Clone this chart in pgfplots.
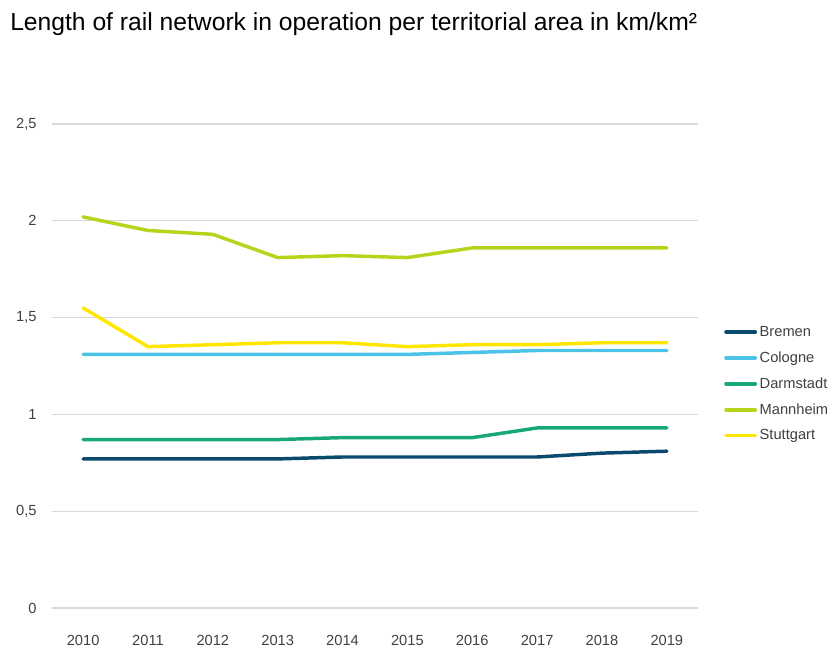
\documentclass[border=0pt]{standalone}
\usepackage{fontspec}
\setmainfont{Liberation Sans}
\usepackage{pgfplots}
\pgfplotsset{compat=1.18}
\definecolor{bremen}{HTML}{0B4A6F}
\definecolor{cologne}{HTML}{4CC3E6}
\definecolor{darmstadt}{HTML}{17A77B}
\definecolor{mannheim}{HTML}{B5D51C}
\definecolor{stuttgart}{HTML}{FFE600}
\definecolor{gridgray}{HTML}{D9D9D9}
\definecolor{ticktext}{HTML}{404040}

\begin{document}
\begin{tikzpicture}
\path[use as bounding box] (-39pt,-30.75pt) rectangle (582pt,456pt);
\begin{axis}[
  scale only axis,
  width=484.5pt,
  height=363pt,
  xmin=2009.52, xmax=2019.48,
  ymin=0, ymax=2.5,
  xtick={2010,...,2019},
  ytick={0,0.5,1,1.5,2,2.5},
  yticklabels={0,{0,5},1,{1,5},2,{2,5}},
  xticklabel={\pgfmathprintnumber[set thousands separator={}]{\tick}},
  /pgf/number format/assume math mode=true,
  axis line style={draw=none},
  axis x line*=bottom,
  axis y line*=left,
  ymajorgrids=true,
  grid style={gridgray, line width=0.8pt},
  major tick length=0pt,
  tick label style={font=\fontsize{11}{13}\selectfont, text=ticktext},
  xticklabel style={yshift=-17pt},
  yticklabel style={xshift=-8pt},
  every axis plot/.append style={line width=2.6pt, line join=round, line cap=round},
  legend style={
    at={(1.034,0.463)}, anchor=west, draw=none, fill=none,
    font=\fontsize{11}{13}\selectfont, text=ticktext,
    row sep=6pt,
    /tikz/every even column/.append style={column sep=0pt},
  },
  legend cell align=left,
  legend image code/.code={\draw[line width=2.6pt,line cap=round] (0pt,0pt) -- (22pt,0pt);},
]
\addplot[bremen] coordinates {
  (2010,0.77) (2011,0.77) (2012,0.77) (2013,0.77) (2014,0.78)
  (2015,0.78) (2016,0.78) (2017,0.78) (2018,0.80) (2019,0.81)
};
\addlegendentry{Bremen}
\addplot[cologne] coordinates {
  (2010,1.31) (2011,1.31) (2012,1.31) (2013,1.31) (2014,1.31)
  (2015,1.31) (2016,1.32) (2017,1.33) (2018,1.33) (2019,1.33)
};
\addlegendentry{Cologne}
\addplot[darmstadt] coordinates {
  (2010,0.87) (2011,0.87) (2012,0.87) (2013,0.87) (2014,0.88)
  (2015,0.88) (2016,0.88) (2017,0.93) (2018,0.93) (2019,0.93)
};
\addlegendentry{Darmstadt}
\addplot[mannheim] coordinates {
  (2010,2.02) (2011,1.95) (2012,1.93) (2013,1.81) (2014,1.82)
  (2015,1.81) (2016,1.86) (2017,1.86) (2018,1.86) (2019,1.86)
};
\addlegendentry{Mannheim}
\addplot[stuttgart] coordinates {
  (2010,1.55) (2011,1.35) (2012,1.36) (2013,1.37) (2014,1.37)
  (2015,1.35) (2016,1.36) (2017,1.36) (2018,1.37) (2019,1.37)
};
\addlegendentry{Stuttgart}
\end{axis}
\node[anchor=base west, font=\fontsize{18.5}{22}\selectfont, inner sep=0pt]
  at (-31.5pt,433pt) {Length of rail network in operation per territorial area in km/km²};
\end{tikzpicture}
\end{document}
